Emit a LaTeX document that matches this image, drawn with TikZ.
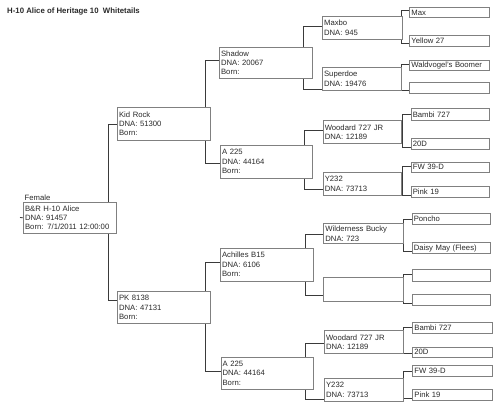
\documentclass[tikz,border=0pt]{standalone}
\usepackage{fontspec}
\setmainfont{Liberation Sans}
\pgfdeclarelayer{bgfill}\pgfdeclarelayer{bg}\pgfsetlayers{bgfill,bg,main}
\definecolor{boxgray}{HTML}{808080}
\definecolor{linegray}{HTML}{3A3A3A}
\definecolor{txtc}{HTML}{2A2A2A}
\tikzset{
  pbox/.style={draw=boxgray, fill=white, line width=0.6pt, inner xsep=1.8pt, inner ysep=0pt,
    anchor=north west, align=left, text=txtc, font=\fontsize{7.7}{9.4}\selectfont},
  conn/.style={draw=linegray, line width=0.8pt},
  plain/.style={text=txtc, inner sep=0pt, font=\fontsize{7.7}{9.4}\selectfont}
}
\newcommand\pedbox[6]{%
  \pgfmathsetmacro\pbw{#4-#2}\pgfmathsetmacro\pbtw{#4-#2-3.6}\pgfmathsetmacro\pbh{#5-#3}%
  \node[pbox, minimum width=\pbw pt, text width=\pbtw pt, minimum height=\pbh pt] (#1) at (#2,#3) {#6};}
\newcommand\bracket[6]{%
  \coordinate (#6a) at (#1,#2); \coordinate (#6b) at (#1,#3);
  \begin{pgfonlayer}{bg}\draw[conn] (#4.west |- #6a) -- (#6a) -- (#6b) -- (#5.west |- #6b);\end{pgfonlayer}}
\begin{document}
\begin{tikzpicture}[x=1pt,y=-1pt]
\begin{pgfonlayer}{bgfill}\fill[white] (0,0) rectangle (500,414);\end{pgfonlayer}
\useasboundingbox (0,0) rectangle (500,414);
\node[plain, anchor=west, font=\fontsize{7.8}{9}\selectfont\bfseries] (title) at (7,11.5) {H-10 Alice of Heritage 10~ Whitetails};
% generation 0
\pedbox{female}{23}{202}{116}{233}{B\&R H-10 Alice\\DNA: 91457\\Born: 7/1/2011 12:00:00}
\node[plain, anchor=base west] (femlabel) at (24.5,200.3) {Female};
\coordinate (femstub) at (20,217.5);
\begin{pgfonlayer}{bg}\draw[conn] (female.west) -- (femstub);\end{pgfonlayer}
% generation 1
\pedbox{kid}{117}{107}{210}{140}{Kid Rock\\DNA: 51300\\Born:}
\pedbox{pk}{117}{291}{210}{323.3}{PK 8138\\DNA: 47131\\Born:}
% generation 2
\pedbox{shadow}{219}{46.7}{311.7}{78}{Shadow\\DNA: 20067\\Born:}
\pedbox{atop}{220}{145}{312}{177.7}{A 225\\DNA: 44164\\Born:}
\pedbox{achilles}{220}{247.7}{313}{280.7}{Achilles B15\\DNA: 6106\\Born:}
\pedbox{abot}{220.5}{356.7}{313}{389.3}{A 225\\DNA: 44164\\Born:}
% generation 3
\pedbox{maxbo}{322}{15.7}{401.5}{39}{Maxbo\\DNA: 945}
\pedbox{superdoe}{322}{66.7}{401}{90}{Superdoe\\DNA: 19476}
\pedbox{woodt}{322.7}{120}{401}{143.3}{Woodard 727 JR\\DNA: 12189}
\pedbox{ytop}{322.7}{171.7}{401}{195}{Y232\\DNA: 73713}
\pedbox{bucky}{323.3}{223.3}{402.7}{243.3}{Wilderness Bucky\\DNA: 723}
\pedbox{emptyc}{323.3}{276.7}{402.7}{300.7}{}
\pedbox{woodb}{324}{330}{403.3}{353.3}{Woodard 727 JR\\DNA: 12189}
\pedbox{ybot}{324}{378.3}{403.3}{400.7}{Y232\\DNA: 73713}
% generation 4
\pedbox{max}{409.3}{7.3}{489.3}{17.3}{Max}
\pedbox{yellow}{409.3}{35.3}{489.3}{45.7}{Yellow 27}
\pedbox{wald}{409.3}{60}{489.3}{70}{Waldvogel's Boomer}
\pedbox{emptyd}{409.3}{81.7}{489.3}{92.7}{}
\pedbox{bambit}{410.7}{108.5}{489.3}{120.5}{Bambi 727}
\pedbox{twentyt}{410.7}{138.3}{489.3}{149.3}{20D}
\pedbox{fwt}{410.7}{161.7}{489.3}{172.3}{FW 39-D}
\pedbox{pinkt}{410.7}{186}{489.3}{196.5}{Pink 19}
\pedbox{poncho}{411.7}{213.3}{490}{224.3}{Poncho}
\pedbox{daisy}{411.7}{242.3}{490}{253.3}{Daisy May (Flees)}
\pedbox{emptye}{411.7}{269}{490}{280.7}{}
\pedbox{emptyf}{411.7}{294}{490}{305}{}
\pedbox{bambib}{412.3}{322.3}{491.7}{332.7}{Bambi 727}
\pedbox{twentyb}{412.3}{346.7}{491.7}{356.7}{20D}
\pedbox{fwb}{412.3}{365}{491.7}{375.7}{FW 39-D}
\pedbox{pinkb}{412.3}{389.3}{491.7}{400}{Pink 19}
% connectors
\bracket{108}{124}{300.7}{kid}{pk}{ja}
\bracket{205.7}{60.7}{163.3}{shadow}{atop}{jb}
\bracket{205.7}{262.7}{371}{achilles}{abot}{jc}
\bracket{303}{26.7}{89.3}{maxbo}{superdoe}{jd}
\bracket{304.3}{130.7}{189}{woodt}{ytop}{je}
\bracket{305}{234}{295}{bucky}{emptyc}{jf}
\bracket{305}{343.3}{399.3}{woodb}{ybot}{jg}
\bracket{401}{10}{43.3}{max}{yellow}{jh}
\bracket{401}{64}{90.7}{wald}{emptyd}{ji}
\bracket{402.3}{114.3}{147.3}{bambit}{twentyt}{jj}
\bracket{402.3}{166.7}{195}{fwt}{pinkt}{jk}
\bracket{403.3}{219}{251.7}{poncho}{daisy}{jl}
\bracket{403.3}{274.3}{303.3}{emptye}{emptyf}{jm}
\bracket{403.3}{327.3}{353.3}{bambib}{twentyb}{jn}
\bracket{403.3}{371.7}{398.3}{fwb}{pinkb}{jo}
\end{tikzpicture}
\end{document}
